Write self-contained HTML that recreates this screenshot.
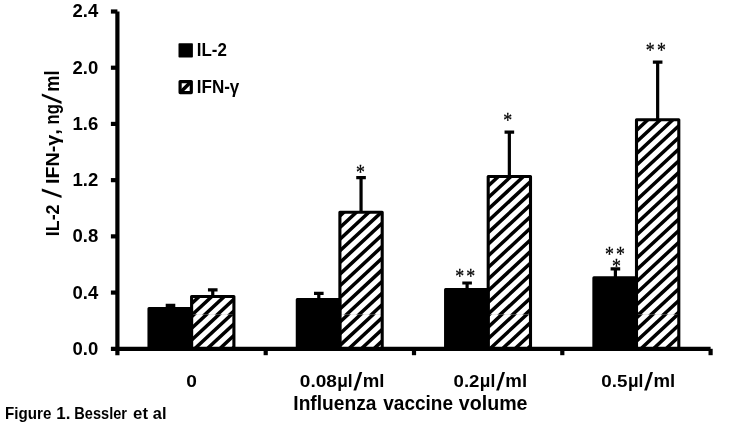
<!DOCTYPE html>
<html><head><meta charset="utf-8"><title>Figure 1. Bessler et al</title>
<style>html,body{margin:0;padding:0;background:#fff}svg{display:block}</style></head>
<body><svg width="734" height="440" viewBox="0 0 734 440"><rect x="148.95" y="308.50" width="42.60" height="40.30" fill="#000" stroke="#000" stroke-width="3" stroke-linejoin="round"/>
<clipPath id="c1"><rect x="191.60" y="296.55" width="42.30" height="17.95"/></clipPath>
<path clip-path="url(#c1)" d="M187.60 295.74L237.90 248.96M187.60 307.38L237.90 260.60M187.60 319.02L237.90 272.24M187.60 330.66L237.90 283.88M187.60 342.30L237.90 295.52M187.60 353.94L237.90 307.16" stroke="#000" stroke-width="3.5" fill="none"/>
<clipPath id="c2"><rect x="191.60" y="314.50" width="42.30" height="34.30"/></clipPath>
<path clip-path="url(#c2)" d="M187.60 320.42L237.90 273.64M187.60 332.06L237.90 285.28M187.60 343.70L237.90 296.92M187.60 355.34L237.90 308.56M187.60 366.98L237.90 320.20M187.60 378.62L237.90 331.84M187.60 390.26L237.90 343.48" stroke="#000" stroke-width="3.5" fill="none"/>
<rect x="191.60" y="296.55" width="42.30" height="52.25" fill="none" stroke="#000" stroke-width="3.1" stroke-linejoin="round"/>
<path d="M193.15 314.5H233.85" stroke="#000" stroke-opacity="0.13" stroke-width="0.6"/>
<path d="M170.50 308.00V305.40M165.70 305.40H175.30" stroke="#000" stroke-width="3.2" fill="none"/>
<path d="M212.75 296.00V289.90M207.95 289.90H217.55" stroke="#000" stroke-width="3.2" fill="none"/>
<rect x="297.25" y="299.50" width="42.60" height="49.30" fill="#000" stroke="#000" stroke-width="3" stroke-linejoin="round"/>
<clipPath id="c3"><rect x="339.90" y="212.25" width="42.30" height="102.25"/></clipPath>
<path clip-path="url(#c3)" d="M335.90 219.68L386.20 172.90M335.90 231.32L386.20 184.54M335.90 242.96L386.20 196.18M335.90 254.60L386.20 207.82M335.90 266.24L386.20 219.46M335.90 277.88L386.20 231.10M335.90 289.52L386.20 242.74M335.90 301.16L386.20 254.38M335.90 312.80L386.20 266.02M335.90 324.44L386.20 277.66M335.90 336.08L386.20 289.30M335.90 347.72L386.20 300.94M335.90 359.36L386.20 312.58" stroke="#000" stroke-width="3.5" fill="none"/>
<clipPath id="c4"><rect x="339.90" y="314.50" width="42.30" height="34.30"/></clipPath>
<path clip-path="url(#c4)" d="M335.90 314.20L386.20 267.42M335.90 325.84L386.20 279.06M335.90 337.48L386.20 290.70M335.90 349.12L386.20 302.34M335.90 360.76L386.20 313.98M335.90 372.40L386.20 325.62M335.90 384.04L386.20 337.26M335.90 395.68L386.20 348.90" stroke="#000" stroke-width="3.5" fill="none"/>
<rect x="339.90" y="212.25" width="42.30" height="136.55" fill="none" stroke="#000" stroke-width="3.1" stroke-linejoin="round"/>
<path d="M341.45 314.5H382.15" stroke="#000" stroke-opacity="0.13" stroke-width="0.6"/>
<path d="M318.80 299.00V293.40M314.00 293.40H323.60" stroke="#000" stroke-width="3.2" fill="none"/>
<path d="M361.05 211.70V177.70M356.25 177.70H365.85" stroke="#000" stroke-width="3.2" fill="none"/>
<rect x="445.55" y="289.40" width="42.60" height="59.40" fill="#000" stroke="#000" stroke-width="3" stroke-linejoin="round"/>
<clipPath id="c5"><rect x="488.20" y="176.55" width="42.30" height="137.95"/></clipPath>
<path clip-path="url(#c5)" d="M484.20 178.08L534.50 131.30M484.20 189.72L534.50 142.94M484.20 201.36L534.50 154.58M484.20 213.00L534.50 166.22M484.20 224.64L534.50 177.86M484.20 236.28L534.50 189.50M484.20 247.92L534.50 201.14M484.20 259.56L534.50 212.78M484.20 271.20L534.50 224.42M484.20 282.84L534.50 236.06M484.20 294.48L534.50 247.70M484.20 306.12L534.50 259.34M484.20 317.76L534.50 270.98M484.20 329.40L534.50 282.62M484.20 341.04L534.50 294.26M484.20 352.68L534.50 305.90" stroke="#000" stroke-width="3.5" fill="none"/>
<clipPath id="c6"><rect x="488.20" y="314.50" width="42.30" height="34.30"/></clipPath>
<path clip-path="url(#c6)" d="M484.20 319.16L534.50 272.38M484.20 330.80L534.50 284.02M484.20 342.44L534.50 295.66M484.20 354.08L534.50 307.30M484.20 365.72L534.50 318.94M484.20 377.36L534.50 330.58M484.20 389.00L534.50 342.22" stroke="#000" stroke-width="3.5" fill="none"/>
<rect x="488.20" y="176.55" width="42.30" height="172.25" fill="none" stroke="#000" stroke-width="3.1" stroke-linejoin="round"/>
<path d="M489.75 314.5H530.45" stroke="#000" stroke-opacity="0.13" stroke-width="0.6"/>
<path d="M467.10 288.90V283.00M462.30 283.00H471.90" stroke="#000" stroke-width="3.2" fill="none"/>
<path d="M509.35 176.00V132.20M504.55 132.20H514.15" stroke="#000" stroke-width="3.2" fill="none"/>
<rect x="593.85" y="277.70" width="42.60" height="71.10" fill="#000" stroke="#000" stroke-width="3" stroke-linejoin="round"/>
<clipPath id="c7"><rect x="636.50" y="119.75" width="42.30" height="194.75"/></clipPath>
<path clip-path="url(#c7)" d="M632.50 122.38L682.80 75.60M632.50 134.02L682.80 87.24M632.50 145.66L682.80 98.88M632.50 157.30L682.80 110.52M632.50 168.94L682.80 122.16M632.50 180.58L682.80 133.80M632.50 192.22L682.80 145.44M632.50 203.86L682.80 157.08M632.50 215.50L682.80 168.72M632.50 227.14L682.80 180.36M632.50 238.78L682.80 192.00M632.50 250.42L682.80 203.64M632.50 262.06L682.80 215.28M632.50 273.70L682.80 226.92M632.50 285.34L682.80 238.56M632.50 296.98L682.80 250.20M632.50 308.62L682.80 261.84M632.50 320.26L682.80 273.48M632.50 331.90L682.80 285.12M632.50 343.54L682.80 296.76M632.50 355.18L682.80 308.40" stroke="#000" stroke-width="3.5" fill="none"/>
<clipPath id="c8"><rect x="636.50" y="314.50" width="42.30" height="34.30"/></clipPath>
<path clip-path="url(#c8)" d="M632.50 321.66L682.80 274.88M632.50 333.30L682.80 286.52M632.50 344.94L682.80 298.16M632.50 356.58L682.80 309.80M632.50 368.22L682.80 321.44M632.50 379.86L682.80 333.08M632.50 391.50L682.80 344.72" stroke="#000" stroke-width="3.5" fill="none"/>
<rect x="636.50" y="119.75" width="42.30" height="229.05" fill="none" stroke="#000" stroke-width="3.1" stroke-linejoin="round"/>
<path d="M638.05 314.5H678.75" stroke="#000" stroke-opacity="0.13" stroke-width="0.6"/>
<path d="M615.40 277.20V268.80M610.60 268.80H620.20" stroke="#000" stroke-width="3.2" fill="none"/>
<path d="M657.65 119.20V62.20M652.85 62.20H662.45" stroke="#000" stroke-width="3.2" fill="none"/>
<path d="M117.40 11.50V355.20M110.90 348.80H710.60" stroke="#000" stroke-width="4.2" fill="none"/>
<path d="M110.90 292.58H117.40" stroke="#000" stroke-width="4.2"/>
<path d="M110.90 236.37H117.40" stroke="#000" stroke-width="4.2"/>
<path d="M110.90 180.15H117.40" stroke="#000" stroke-width="4.2"/>
<path d="M110.90 123.93H117.40" stroke="#000" stroke-width="4.2"/>
<path d="M110.90 67.72H117.40" stroke="#000" stroke-width="4.2"/>
<path d="M110.90 11.50H117.40" stroke="#000" stroke-width="4.2"/>
<path d="M265.70 348.80V355.20" stroke="#000" stroke-width="4.2"/>
<path d="M414.00 348.80V355.20" stroke="#000" stroke-width="4.2"/>
<path d="M562.30 348.80V355.20" stroke="#000" stroke-width="4.2"/>
<path d="M710.60 348.80V355.20" stroke="#000" stroke-width="4.2"/>
<text transform="translate(72.56,354.75) scale(1.0521,1)" font-family='"Liberation Sans", sans-serif' font-size="17.6" font-weight="bold" style="font-kerning:none">0.0</text>
<text transform="translate(72.56,298.53) scale(1.0521,1)" font-family='"Liberation Sans", sans-serif' font-size="17.6" font-weight="bold" style="font-kerning:none">0.4</text>
<text transform="translate(72.56,242.32) scale(1.0521,1)" font-family='"Liberation Sans", sans-serif' font-size="17.6" font-weight="bold" style="font-kerning:none">0.8</text>
<text transform="translate(72.56,186.10) scale(1.0521,1)" font-family='"Liberation Sans", sans-serif' font-size="17.6" font-weight="bold" style="font-kerning:none">1.2</text>
<text transform="translate(72.56,129.88) scale(1.0521,1)" font-family='"Liberation Sans", sans-serif' font-size="17.6" font-weight="bold" style="font-kerning:none">1.6</text>
<text transform="translate(72.56,73.67) scale(1.0521,1)" font-family='"Liberation Sans", sans-serif' font-size="17.6" font-weight="bold" style="font-kerning:none">2.0</text>
<text transform="translate(72.56,17.45) scale(1.0521,1)" font-family='"Liberation Sans", sans-serif' font-size="17.6" font-weight="bold" style="font-kerning:none">2.4</text>
<rect x="178.5" y="43.2" width="14.4" height="14.3" rx="0.8" fill="#000"/>
<clipPath id="c9"><rect x="180.10" y="81.60" width="11.20" height="11.00"/></clipPath>
<path clip-path="url(#c9)" d="M176.10 84.94L195.30 65.74M176.10 96.60L195.30 77.40M176.10 108.26L195.30 89.06" stroke="#000" stroke-width="3.5" fill="none"/>
<rect x="180.1" y="81.6" width="11.2" height="11.0" fill="none" stroke="#000" stroke-width="3.2" stroke-linejoin="round"/>
<text transform="translate(196.77,56.2) scale(0.9205,1)" font-family='"Liberation Sans", sans-serif' font-size="18.4" font-weight="bold" style="font-kerning:none">IL-2</text>
<text transform="translate(196.76,93.0) scale(0.9262,1)" font-family='"Liberation Sans", sans-serif' font-size="18.4" font-weight="bold" style="font-kerning:none">IFN-γ</text>
<g transform="translate(58.6,235.3) rotate(-90)">
<text transform="translate(-0.89,0) scale(0.9289,1)" font-family='"Liberation Sans", sans-serif' font-size="19.2" font-weight="bold" style="font-kerning:none">IL-2</text>
<text transform="translate(37.08,2.37) matrix(0.8709 0 -0.1891 1 0 0)" font-family='"Liberation Sans", sans-serif' font-size="26.46" font-weight="bold">/</text>
<text transform="translate(51.28,0) scale(1.0283,1)" font-family='"Liberation Sans", sans-serif' font-size="19.2" font-weight="bold" style="font-kerning:none">IFN-γ,</text>
<text transform="translate(110.92,0) scale(0.8058,1)" font-family='"Liberation Sans", sans-serif' font-size="20.4" font-weight="bold" style="font-kerning:none">ng</text>
<text transform="translate(131.30,2.37) matrix(0.8709 0 -0.2298 1 0 0)" font-family='"Liberation Sans", sans-serif' font-size="26.46" font-weight="bold">/</text>
<text transform="translate(143.50,0) scale(0.8945,1)" font-family='"Liberation Sans", sans-serif' font-size="20.4" font-weight="bold" style="font-kerning:none">ml</text>
</g>
<text transform="translate(186.24,386.9) scale(1.0997,1)" font-family='"Liberation Sans", sans-serif' font-size="17.4" font-weight="bold" style="font-kerning:none">0</text>
<text transform="translate(299.85,386.9) scale(1.0967,1)" font-family='"Liberation Sans", sans-serif' font-size="17.4" font-weight="bold" style="font-kerning:none">0.08</text>
<text transform="translate(337.18,386.9) scale(0.9439,1)" font-family='"Liberation Sans", sans-serif' font-size="18.4" font-weight="bold" style="font-kerning:none">μl</text>
<text transform="translate(353.35,389.80) matrix(0.9224 0 -0.1573 1 0 0)" font-family='"Liberation Sans", sans-serif' font-size="24.98" font-weight="bold">/</text>
<text transform="translate(362.77,386.9) scale(1.0128,1)" font-family='"Liberation Sans", sans-serif' font-size="18.4" font-weight="bold" style="font-kerning:none">ml</text>
<text transform="translate(453.56,386.9) scale(1.0700,1)" font-family='"Liberation Sans", sans-serif' font-size="17.4" font-weight="bold" style="font-kerning:none">0.2</text>
<text transform="translate(479.78,386.9) scale(0.9439,1)" font-family='"Liberation Sans", sans-serif' font-size="18.4" font-weight="bold" style="font-kerning:none">μl</text>
<text transform="translate(495.95,389.80) matrix(0.9224 0 -0.1573 1 0 0)" font-family='"Liberation Sans", sans-serif' font-size="24.98" font-weight="bold">/</text>
<text transform="translate(505.37,386.9) scale(1.0128,1)" font-family='"Liberation Sans", sans-serif' font-size="18.4" font-weight="bold" style="font-kerning:none">ml</text>
<text transform="translate(601.36,386.9) scale(1.0819,1)" font-family='"Liberation Sans", sans-serif' font-size="17.4" font-weight="bold" style="font-kerning:none">0.5</text>
<text transform="translate(627.88,386.9) scale(0.9439,1)" font-family='"Liberation Sans", sans-serif' font-size="18.4" font-weight="bold" style="font-kerning:none">μl</text>
<text transform="translate(644.05,389.80) matrix(0.9224 0 -0.1573 1 0 0)" font-family='"Liberation Sans", sans-serif' font-size="24.98" font-weight="bold">/</text>
<text transform="translate(653.47,386.9) scale(1.0128,1)" font-family='"Liberation Sans", sans-serif' font-size="18.4" font-weight="bold" style="font-kerning:none">ml</text>
<text transform="translate(293.32,409.5) scale(0.9692,1)" font-family='"Liberation Sans", sans-serif' font-size="19.8" font-weight="bold" style="font-kerning:none">Influenza</text>
<text transform="translate(383.23,409.5) scale(0.9610,1)" font-family='"Liberation Sans", sans-serif' font-size="19.8" font-weight="bold" style="font-kerning:none">vaccine</text>
<text transform="translate(458.82,409.5) scale(0.9918,1)" font-family='"Liberation Sans", sans-serif' font-size="19.8" font-weight="bold" style="font-kerning:none">volume</text>
<text transform="translate(5.09,419.4) scale(0.9477,1)" font-family='"Liberation Sans", sans-serif' font-size="16" font-weight="bold" style="font-kerning:none">Figure</text>
<text transform="translate(56.33,419.4) scale(1.0592,1)" font-family='"Liberation Sans", sans-serif' font-size="16" font-weight="bold" style="font-kerning:none">1.</text>
<text transform="translate(74.32,419.4) scale(0.9114,1)" font-family='"Liberation Sans", sans-serif' font-size="16" font-weight="bold" style="font-kerning:none">Bessler</text>
<text transform="translate(133.04,419.4) scale(1.0517,1)" font-family='"Liberation Sans", sans-serif' font-size="16" font-weight="bold" style="font-kerning:none">et</text>
<text transform="translate(152.82,419.4) scale(1.0220,1)" font-family='"Liberation Sans", sans-serif' font-size="16" font-weight="bold" style="font-kerning:none">al</text>
<text transform="translate(360.45,168.85) scale(0.8926,1.0908)" x="-5.010" y="9.428" font-family='"Liberation Serif", serif' font-size="20" stroke="#000" stroke-width="0.25">*</text>
<text transform="translate(507.7,117.0) scale(0.8926,1.0908)" x="-5.010" y="9.428" font-family='"Liberation Serif", serif' font-size="20" stroke="#000" stroke-width="0.25">*</text>
<text transform="translate(459.6,272.7) scale(0.8926,1.0908)" x="-5.010" y="9.428" font-family='"Liberation Serif", serif' font-size="20" stroke="#000" stroke-width="0.25">*</text>
<text transform="translate(470.7,272.7) scale(0.8926,1.0908)" x="-5.010" y="9.428" font-family='"Liberation Serif", serif' font-size="20" stroke="#000" stroke-width="0.25">*</text>
<text transform="translate(650.2,46.400000000000006) scale(0.8926,1.0908)" x="-5.010" y="9.428" font-family='"Liberation Serif", serif' font-size="20" stroke="#000" stroke-width="0.25">*</text>
<text transform="translate(661.5,46.400000000000006) scale(0.8926,1.0908)" x="-5.010" y="9.428" font-family='"Liberation Serif", serif' font-size="20" stroke="#000" stroke-width="0.25">*</text>
<text transform="translate(609.35,250.29999999999998) scale(0.8926,1.0908)" x="-5.010" y="9.428" font-family='"Liberation Serif", serif' font-size="20" stroke="#000" stroke-width="0.25">*</text>
<text transform="translate(620.55,250.29999999999998) scale(0.8926,1.0908)" x="-5.010" y="9.428" font-family='"Liberation Serif", serif' font-size="20" stroke="#000" stroke-width="0.25">*</text>
<text transform="translate(616.45,262.8) scale(0.8926,1.0908)" x="-5.010" y="9.428" font-family='"Liberation Serif", serif' font-size="20" stroke="#000" stroke-width="0.25">*</text></svg></body></html>
